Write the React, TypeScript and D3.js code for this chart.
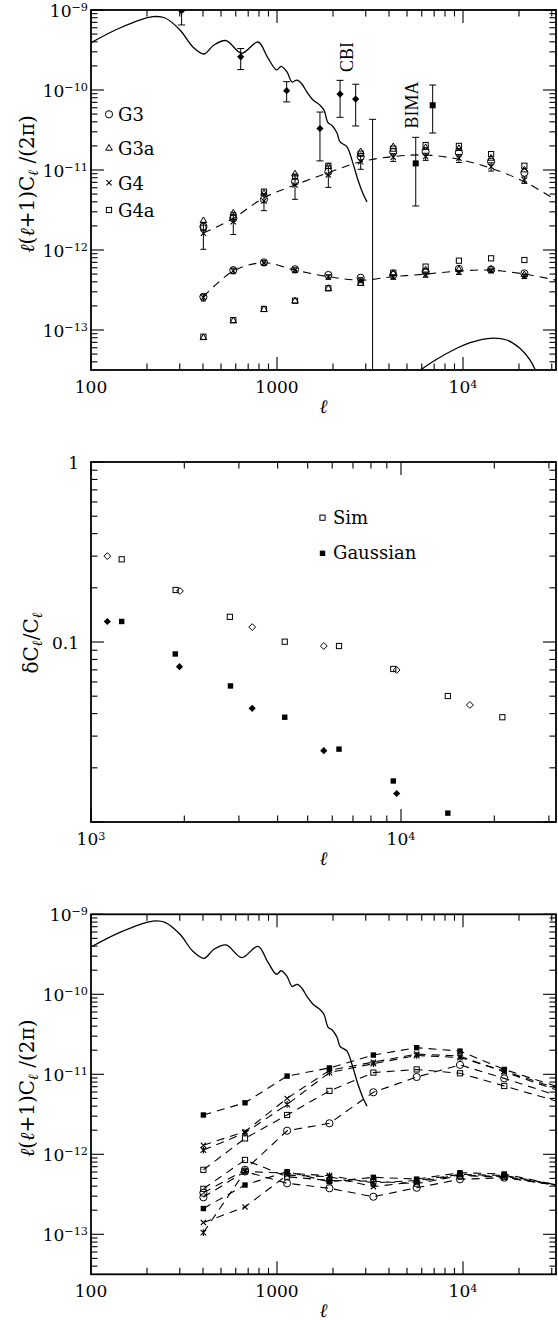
import React from "react";
import * as d3 from "d3";

// ---------------- Panel 1 data ----------------
const cmbL = [100, 143, 215, 250, 301, 353, 405, 458, 532, 646, 790, 895, 995, 1052, 1132, 1205, 1282, 1361, 1449, 1563, 1703, 1790, 1880, 1975, 2102, 2183, 2378, 2530, 2626, 2724, 2897, 3047];
const cmbV = [3.9e-10, 5.96e-10, 8.24e-10, 7.94e-10, 5.62e-10, 3.45e-10, 2.82e-10, 3.65e-10, 4.15e-10, 2.88e-10, 3.98e-10, 2.5e-10, 1.78e-10, 1.97e-10, 1.68e-10, 1.26e-10, 1.33e-10, 1.19e-10, 9.4e-11, 7.5e-11, 6.45e-11, 5.6e-11, 3.9e-11, 3.6e-11, 2.9e-11, 2.24e-11, 1.95e-11, 1.33e-11, 1.0e-11, 7.5e-12, 5.1e-12, 4.0e-12];

const szL = [5800, 5998, 7224, 8875, 10910, 13970, 17170, 20240, 22900, 24370, 24800];
const szV = [3.0e-14, 3.23e-14, 4.31e-14, 5.62e-14, 6.93e-14, 7.87e-14, 7.5e-14, 5.9e-14, 4.22e-14, 3.23e-14, 2.9e-14];

const cbiL = [307, 638, 1127, 1702, 2183, 2649];
const cbiV = [9.8e-10, 2.6e-10, 9.8e-11, 3.3e-11, 8.9e-11, 7.7e-11];
const cbiLo = [6.5e-10, 1.8e-10, 7.1e-11, 1.3e-11, 4.56e-11, 3.55e-11];
const cbiHi = [1.3e-9, 3.3e-10, 1.27e-10, 5.3e-11, 1.32e-10, 1.18e-10];

const wideL = [3266];
const wideLo = [1e-15];
const wideHi = [4.3e-11];

const bimaL = [5571, 6871];
const bimaV = [1.21e-11, 6.44e-11];
const bimaLo = [3.55e-12, 2.9e-11];
const bimaHi = [2.56e-11, 1.155e-10];

const simL1 = [402, 582, 851, 1250, 1888, 2818, 4217, 6296, 9506, 14160, 21380];
const g3Up = [1.96e-12, 2.49e-12, 4.3e-12, 7.14e-12, 9.5e-12, 1.47e-11, 1.69e-11, 1.69e-11, 1.64e-11, 1.27e-11, 9.25e-12];
const g3aUp = [2.32e-12, 2.88e-12, 5.1e-12, 8.9e-12, 1.1e-11, 1.69e-11, 1.95e-11, 1.9e-11, 1.85e-11, 1.4e-11, 1.0e-11];
const g4Up = [1.62e-12, 2.26e-12, 4.1e-12, 6.5e-12, 8.66e-12, 1.27e-11, 1.44e-11, 1.47e-11, 1.4e-11, 1.1e-11, 7.5e-12];
const g4UpErr = [0.6e-12, 0.7e-12, 1.0e-12, 2.2e-12, 2.6e-12, 2.5e-12, 1.6e-12, 1.5e-12, 1.6e-12, 1.3e-12, 0.7e-12];
const g4aUp = [1.9e-12, 2.6e-12, 5.36e-12, 8.25e-12, 1.13e-11, 1.6e-11, 1.85e-11, 2.05e-11, 2.0e-11, 1.58e-11, 1.13e-11];

const g3Lo = [2.6e-13, 5.6e-13, 7.0e-13, 5.74e-13, 4.87e-13, 4.5e-13, 4.87e-13, 5.36e-13, 5.8e-13, 5.7e-13, 5.1e-13];
const g3aLo = [8.0e-14, 1.3e-13, 1.8e-13, 2.3e-13, 3.3e-13, 3.8e-13, 5.1e-13, 5.6e-13, 5.7e-13, 5.74e-13, 4.9e-13];
const g4Lo = [2.55e-13, 5.5e-13, 6.9e-13, 5.6e-13, 4.6e-13, 4.2e-13, 4.6e-13, 4.87e-13, 5.26e-13, 5.5e-13, 4.7e-13];
const g4LoErr = [0.25e-13, 0.45e-13, 0.5e-13, 0.4e-13, 0.3e-13, 0.3e-13, 0.3e-13, 0.3e-13, 0.3e-13, 0.3e-13, 0.3e-13];
const g4aLo = [8.24e-14, 1.33e-13, 1.83e-13, 2.32e-13, 3.32e-13, 3.9e-13, 5.2e-13, 6.2e-13, 7.35e-13, 7.87e-13, 7.5e-13];

const dashL1 = [402, 582, 851, 1250, 1888, 2818, 4217, 6296, 9506, 14160, 21380, 31623];
const dashUp = [1.62e-12, 2.49e-12, 4.5e-12, 6.5e-12, 9.25e-12, 1.27e-11, 1.47e-11, 1.54e-11, 1.36e-11, 1.05e-11, 7.14e-12, 4.2e-12];
const dashLo = [2.6e-13, 5.46e-13, 6.93e-13, 5.6e-13, 4.64e-13, 4.2e-13, 4.64e-13, 5.0e-13, 5.46e-13, 5.6e-13, 5.0e-13, 4.2e-13];

const legend1Names = ["G3", "G3a", "G4", "G4a"];

// ---------------- Panel 2 data ----------------
const simL2 = [1256, 1875, 2805, 4217, 6310, 9441, 14160, 21230];
const simV2 = [0.288, 0.1945, 0.138, 0.1004, 0.095, 0.0708, 0.0501, 0.0382];
const gaussL2 = [1256, 1870, 2818, 4217, 6310, 9441, 14160];
const gaussV2 = [0.13, 0.0858, 0.057, 0.0382, 0.0254, 0.0169, 0.0112];
const dSimL2 = [1129, 1936, 3311, 5636, 9683, 16680];
const dSimV2 = [0.30, 0.192, 0.121, 0.095, 0.0699, 0.0447];
const dGaussL2 = [1129, 1930, 3311, 5636, 9683];
const dGaussV2 = [0.13, 0.0729, 0.0428, 0.0249, 0.0144];
const legend2Names = ["Sim", "Gaussian"];

// ---------------- Panel 3 data ----------------
const simL3 = [402, 673, 1133, 1914, 3297, 5635, 9636, 16660, 48000];
const u3Fill = [3.1e-12, 4.4e-12, 9.5e-12, 1.2e-11, 1.74e-11, 2.15e-11, 1.95e-11, 1.15e-11, 5.2e-12];
const u3Cross = [1.3e-12, 1.92e-12, 5.0e-12, 1.12e-11, 1.42e-11, 1.79e-11, 1.69e-11, 1.07e-11, 4.6e-12];
const u3Star = [1.13e-12, 1.85e-12, 4.2e-12, 1.05e-11, 1.36e-11, 1.72e-11, 1.62e-11, 1.1e-11, 4.9e-12];
const u3Sq = [6.4e-13, 1.58e-12, 3.1e-12, 6.2e-12, 1.05e-11, 1.15e-11, 1.03e-11, 7.15e-12, 3.5e-12];
const u3Circ = [3.3e-13, 6.4e-13, 1.97e-12, 2.44e-12, 5.96e-12, 9.25e-12, 1.31e-11, 8.9e-12, 4.0e-12];
const l3Fill = [2.1e-13, 4.13e-13, 6.07e-13, 4.54e-13, 5.16e-13, 4.9e-13, 5.89e-13, 5.67e-13, 3.4e-13];
const l3Cross = [1.4e-13, 2.2e-13, 5.5e-13, 5.25e-13, 3.94e-13, 4.54e-13, 5.5e-13, 5.3e-13, 3.5e-13];
const l3Star = [1.05e-13, 6.1e-13, 5.8e-13, 5.4e-13, 4.4e-13, 4.7e-13, 5.6e-13, 5.45e-13, 3.5e-13];
const l3Sq = [3.7e-13, 8.5e-13, 5.25e-13, 4.7e-13, 4.6e-13, 4.3e-13, 5.4e-13, 5.2e-13, 3.5e-13];
const l3Circ = [2.9e-13, 6.1e-13, 4.34e-13, 3.76e-13, 2.95e-13, 3.82e-13, 4.87e-13, 5.1e-13, 3.6e-13];

// tick labels
const xTickV13 = [100, 1000, 10000];
const xTickT13 = ["100", "1000", "10^4"];
const yTickV13 = [1e-9, 1e-10, 1e-11, 1e-12, 1e-13];
const yTickT13 = ["10^−9", "10^−10", "10^−11", "10^−12", "10^−13"];
const xTickV2 = [1000, 10000];
const xTickT2 = ["10^3", "10^4"];
const yTickV2 = [1, 0.1];
const yTickT2 = ["1", "0.1"];

// ---------------- layout ----------------
const W = 558, H = 1320;
const LEFT = 91, RIGHT = 556;
const FONT = "'DejaVu Serif', serif";

type Sym = "circle" | "triangle" | "cross" | "square" | "fsquare" | "diamond" | "fdiamond" | "star" | "bsquare";

function Marker({ sym, cx, cy }: { sym: Sym; cx: number; cy: number }) {
  const k = "#000";
  switch (sym) {
    case "circle":
      return <circle cx={cx} cy={cy} r={3.6} fill="none" stroke={k} strokeWidth={1} />;
    case "triangle": {
      const r = 3.8;
      const p = [[cx, cy - r], [cx + r * 0.87, cy + r * 0.5], [cx - r * 0.87, cy + r * 0.5]];
      return <polygon points={p.map((q) => q.join(",")).join(" ")} fill="none" stroke={k} strokeWidth={1} />;
    }
    case "cross": {
      const r = 2.6;
      return <path d={`M${cx - r},${cy - r}L${cx + r},${cy + r}M${cx - r},${cy + r}L${cx + r},${cy - r}`} stroke={k} strokeWidth={1.1} />;
    }
    case "star": {
      const r = 2.8;
      return <path d={`M${cx - r},${cy - r}L${cx + r},${cy + r}M${cx - r},${cy + r}L${cx + r},${cy - r}M${cx},${cy - r * 1.2}L${cx},${cy + r * 1.2}`} stroke={k} strokeWidth={1.1} />;
    }
    case "square":
      return <rect x={cx - 2.6} y={cy - 2.6} width={5.2} height={5.2} fill="none" stroke={k} strokeWidth={1} />;
    case "fsquare":
      return <rect x={cx - 2.7} y={cy - 2.7} width={5.4} height={5.4} fill={k} />;
    case "bsquare":
      return <rect x={cx - 3} y={cy - 3} width={6} height={6} fill={k} />;
    case "diamond": {
      const r = 3.4;
      return <polygon points={`${cx},${cy - r} ${cx + r},${cy} ${cx},${cy + r} ${cx - r},${cy}`} fill="none" stroke={k} strokeWidth={1} />;
    }
    case "fdiamond": {
      const r = 3.6;
      return <polygon points={`${cx},${cy - r} ${cx + r},${cy} ${cx},${cy + r} ${cx - r},${cy}`} fill={k} />;
    }
  }
  return null;
}

function logTicks(domain: number[]) {
  const [a, b] = domain;
  const out: { v: number; major: boolean }[] = [];
  for (let e = Math.floor(Math.log10(a)) - 1; e <= Math.ceil(Math.log10(b)); e++) {
    for (let k = 1; k <= 9; k++) {
      const v = k * Math.pow(10, e);
      if (v >= a * 0.9999 && v <= b * 1.0001) out.push({ v, major: k === 1 });
    }
  }
  return out;
}

function Label({ x, y, t, anchor, size }: { x: number; y: number; t: string; anchor: string; size: number }) {
  const parts = t.split("^");
  return (
    <text x={x} y={y} textAnchor={anchor} fontSize={size} fontFamily={FONT}>
      {parts[0]}
      {parts[1] ? (
        <tspan dy={-5.5} fontSize={size * 0.66}>
          {parts[1]}
        </tspan>
      ) : null}
    </text>
  );
}

function Frame({ x, y, xv, xt, yv, yt, yLabelRight }: any) {
  const [x0, x1] = x.range();
  const [yb, yt0] = y.range();
  const xticks = logTicks(x.domain());
  const yticks = logTicks(y.domain());
  const MJ = 13, MN = 6.5;
  return (
    <g>
      {xticks.map((t, i) => {
        const px = x(t.v);
        const L = t.major ? MJ : MN;
        return (
          <g key={"x" + i}>
            <line x1={px} x2={px} y1={yb} y2={yb - L} stroke="#000" strokeWidth={1.1} />
            <line x1={px} x2={px} y1={yt0} y2={yt0 + L} stroke="#000" strokeWidth={1.1} />
          </g>
        );
      })}
      {yticks.map((t, i) => {
        const py = y(t.v);
        const L = t.major ? MJ : MN;
        return (
          <g key={"y" + i}>
            <line x1={x0} x2={x0 + L} y1={py} y2={py} stroke="#000" strokeWidth={1.1} />
            <line x1={x1} x2={x1 - L} y1={py} y2={py} stroke="#000" strokeWidth={1.1} />
          </g>
        );
      })}
      <rect x={x0} y={yt0} width={x1 - x0} height={yb - yt0} fill="none" stroke="#000" strokeWidth={1.8} />
      {xv.map((v: number, i: number) => (
        <Label key={"xl" + i} x={x(v)} y={yb + 23} t={xt[i]} anchor="middle" size={17} />
      ))}
      {yv.map((v: number, i: number) => (
        <Label key={"yl" + i} x={yLabelRight} y={y(v) + 6.5} t={yt[i]} anchor="end" size={17} />
      ))}
      <text x={(x0 + x1) / 2} y={yb + 43} textAnchor="middle" fontSize={19} fontStyle="italic" fontFamily={FONT}>
        ℓ
      </text>
    </g>
  );
}

function ErrBar({ px, pyLo, pyHi, cap = 3, capLo = true, capHi = true }: any) {
  return (
    <g stroke="#000" strokeWidth={1}>
      <line x1={px} x2={px} y1={pyLo} y2={pyHi} />
      {capHi ? <line x1={px - cap} x2={px + cap} y1={pyHi} y2={pyHi} /> : null}
      {capLo ? <line x1={px - cap} x2={px + cap} y1={pyLo} y2={pyLo} /> : null}
    </g>
  );
}

function YTitle({ cx, cy }: { cx: number; cy: number }) {
  return (
    <text transform={`translate(${cx},${cy}) rotate(-90)`} textAnchor="middle" fontSize={20} fontFamily={FONT}>
      <tspan fontStyle="italic">ℓ</tspan>(<tspan fontStyle="italic">ℓ</tspan>+1)C
      <tspan dy={4} fontSize={14} fontStyle="italic">ℓ</tspan>
      <tspan dy={-4}> /(2π)</tspan>
    </text>
  );
}

function Panel1() {
  const x = d3.scaleLog().domain([100, Math.pow(10, 4.5)]).range([LEFT, RIGHT]);
  const y = d3.scaleLog().domain([Math.pow(10, -13.5), 1e-9]).range([370, 10]);
  const line = d3.line<[number, number]>().x((d) => x(d[0])).y((d) => y(d[1])).curve(d3.curveCatmullRom);
  const cmb = line(cmbL.map((l, i) => [l, cmbV[i]]));
  const sz = line(szL.map((l, i) => [l, szV[i]]));
  const dUp = line(dashL1.map((l, i) => [l, dashUp[i]]));
  const dLo = line(dashL1.map((l, i) => [l, dashLo[i]]));
  const series: [number[], Sym][] = [
    [g3aUp, "triangle"], [g4aUp, "square"], [g3Up, "circle"], [g4Up, "cross"],
    [g3aLo, "triangle"], [g4aLo, "square"], [g3Lo, "circle"], [g4Lo, "cross"],
  ];
  const legendSyms: Sym[] = ["circle", "triangle", "cross", "square"];
  const legendY = [114.3, 148.3, 182.7, 210];
  return (
    <g>
      <defs>
        <clipPath id="c1">
          <rect x={LEFT} y={10} width={RIGHT - LEFT} height={360} />
        </clipPath>
      </defs>
      <g clipPath="url(#c1)">
        <path d={cmb || ""} fill="none" stroke="#000" strokeWidth={1.3} />
        <path d={sz || ""} fill="none" stroke="#000" strokeWidth={1.3} />
        <path d={dUp || ""} fill="none" stroke="#000" strokeWidth={1.1} strokeDasharray="8 6" />
        <path d={dLo || ""} fill="none" stroke="#000" strokeWidth={1.1} strokeDasharray="8 6" />
        {simL1.map((l, i) => (
          <g key={"e" + i}>
            <ErrBar px={x(l)} pyLo={y(g4Up[i] - g4UpErr[i])} pyHi={y(g4Up[i] + g4UpErr[i])} cap={3} />
            <ErrBar px={x(l)} pyLo={y(g4Lo[i] - g4LoErr[i])} pyHi={y(g4Lo[i] + g4LoErr[i])} cap={2.5} />
          </g>
        ))}
        {series.map(([vals, sym], si) =>
          simL1.map((l, i) => <Marker key={si + "-" + i} sym={sym} cx={x(l)} cy={y(vals[i])} />)
        )}
        {cbiL.map((l, i) => (
          <g key={"c" + i}>
            <ErrBar px={x(l)} pyLo={y(cbiLo[i])} pyHi={y(cbiHi[i])} cap={3.5} />
            <Marker sym="fdiamond" cx={x(l)} cy={y(cbiV[i])} />
          </g>
        ))}
        {wideL.map((l, i) => (
          <ErrBar key={"w" + i} px={x(l)} pyLo={y(wideLo[i])} pyHi={y(wideHi[i])} cap={3.5} />
        ))}
        {bimaL.map((l, i) => (
          <g key={"b" + i}>
            <ErrBar px={x(l)} pyLo={y(bimaLo[i])} pyHi={y(bimaHi[i])} cap={3.5} />
            <Marker sym="bsquare" cx={x(l)} cy={y(bimaV[i])} />
          </g>
        ))}
      </g>
      <text transform="translate(353,57) rotate(-90)" textAnchor="middle" fontSize={18} fontFamily="'Liberation Serif', serif">CBI</text>
      <text transform="translate(418,105) rotate(-90)" textAnchor="middle" fontSize={18} fontFamily="'Liberation Serif', serif">BIMA</text>
      {legend1Names.map((n, i) => (
        <g key={n}>
          <Marker sym={legendSyms[i]} cx={109} cy={legendY[i]} />
          <text x={118} y={legendY[i] + 7} fontSize={18} fontFamily={FONT}>{n}</text>
        </g>
      ))}
      <Frame x={x} y={y} xv={xTickV13} xt={xTickT13} yv={yTickV13} yt={yTickT13} yLabelRight={88} />
      <YTitle cx={34} cy={184} />
    </g>
  );
}

function Panel2() {
  const x = d3.scaleLog().domain([1000, Math.pow(10, 4.5)]).range([LEFT, RIGHT]);
  const y = d3.scaleLog().domain([0.01, 1]).range([822, 462]);
  const sets: [number[], number[], Sym][] = [
    [simL2, simV2, "square"],
    [gaussL2, gaussV2, "fsquare"],
    [dSimL2, dSimV2, "diamond"],
    [dGaussL2, dGaussV2, "fdiamond"],
  ];
  const legSyms: Sym[] = ["square", "fsquare"];
  const legY = [517.7, 553.3];
  return (
    <g>
      {sets.map(([ls, vs, sym], si) => ls.map((l, i) => <Marker key={si + "-" + i} sym={sym} cx={x(l)} cy={y(vs[i])} />))}
      {legend2Names.map((n, i) => (
        <g key={n}>
          <Marker sym={legSyms[i]} cx={322.5} cy={legY[i]} />
          <text x={333} y={legY[i] + 6} fontSize={18} fontFamily={FONT}>{n}</text>
        </g>
      ))}
      <Frame x={x} y={y} xv={xTickV2} xt={xTickT2} yv={yTickV2} yt={yTickT2} yLabelRight={79} />
      <text transform="translate(38,643) rotate(-90)" textAnchor="middle" fontSize={20} fontFamily={FONT}>
        δC<tspan dy={4} fontSize={14} fontStyle="italic">ℓ</tspan>
        <tspan dy={-4}>/C</tspan>
        <tspan dy={4} fontSize={14} fontStyle="italic">ℓ</tspan>
      </text>
    </g>
  );
}

function Panel3() {
  const top = 914.3;
  const x = d3.scaleLog().domain([100, Math.pow(10, 4.5)]).range([LEFT, RIGHT]);
  const y = d3.scaleLog().domain([Math.pow(10, -13.5), 1e-9]).range([top + 360, top]);
  const curve = d3.line<[number, number]>().x((d) => x(d[0])).y((d) => y(d[1])).curve(d3.curveCatmullRom);
  const poly = d3.line<[number, number]>().x((d) => x(d[0])).y((d) => y(d[1]));
  const cmb = curve(cmbL.map((l, i) => [l, cmbV[i]]));
  const series: [number[], Sym][] = [
    [u3Fill, "fsquare"], [u3Cross, "cross"], [u3Star, "star"], [u3Sq, "square"], [u3Circ, "circle"],
    [l3Fill, "fsquare"], [l3Cross, "cross"], [l3Star, "star"], [l3Sq, "square"], [l3Circ, "circle"],
  ];
  const maxL = x.domain()[1];
  return (
    <g>
      <defs>
        <clipPath id="c3">
          <rect x={LEFT} y={top} width={RIGHT - LEFT} height={360} />
        </clipPath>
      </defs>
      <g clipPath="url(#c3)">
        <path d={cmb || ""} fill="none" stroke="#000" strokeWidth={1.3} />
        {series.map(([vals, sym], si) => (
          <g key={"s" + si}>
            <path d={poly(simL3.map((l, i) => [l, vals[i]])) || ""} fill="none" stroke="#000" strokeWidth={1.1} strokeDasharray="8 6" />
            {simL3.map((l, i) => (l <= maxL ? <Marker key={i} sym={sym} cx={x(l)} cy={y(vals[i])} /> : null))}
          </g>
        ))}
      </g>
      <Frame x={x} y={y} xv={xTickV13} xt={xTickT13} yv={yTickV13} yt={yTickT13} yLabelRight={88} />
      <YTitle cx={34} cy={top + 174} />
    </g>
  );
}

export default function App() {
  return (
    <svg width={W} height={H} style={{ position: "absolute", left: 0, top: 0, background: "#fff" }}>
      <rect x={0} y={0} width={W} height={H} fill="#fff" />
      <Panel1 />
      <Panel2 />
      <Panel3 />
    </svg>
  );
}
